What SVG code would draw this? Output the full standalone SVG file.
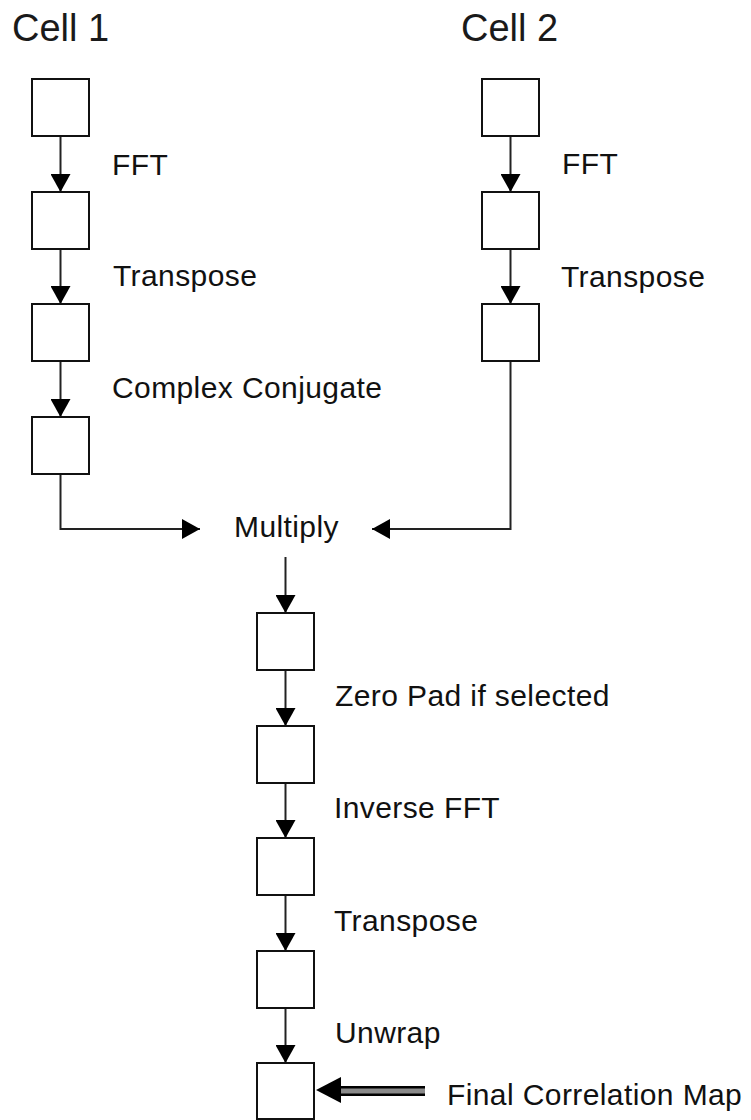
<svg xmlns="http://www.w3.org/2000/svg" width="751" height="1120" viewBox="0 0 751 1120">
<style>
.box{fill:#fff;stroke:#111;stroke-width:2}
.con{fill:none;stroke:#222;stroke-width:2}
.lbl{font-family:"Liberation Sans",Arial,sans-serif;font-size:30px;fill:#111;letter-spacing:0.4px}
.ttl{font-family:"Liberation Sans",Arial,sans-serif;font-size:38px;fill:#1a1a1a}
</style>
<defs>
<marker id="ah" markerUnits="userSpaceOnUse" markerWidth="18" markerHeight="20" refX="18" refY="10" orient="auto">
<path d="M0,0 L18,10 L0,20 Z" fill="#000"/>
</marker>
</defs>
<rect width="751" height="1120" fill="#fff"/>
<g id="titles">
<text class="ttl" x="12" y="41">Cell 1</text>
<text class="ttl" x="461" y="41">Cell 2</text>
</g>
<g id="connectors">
<line class="con" x1="60.5" y1="136" x2="60.5" y2="192" marker-end="url(#ah)"/>
<line class="con" x1="60.5" y1="249" x2="60.5" y2="304" marker-end="url(#ah)"/>
<line class="con" x1="60.5" y1="361" x2="60.5" y2="417" marker-end="url(#ah)"/>
<path class="con" d="M60.5,474 V529 H200" marker-end="url(#ah)"/>
<line class="con" x1="510.5" y1="136" x2="510.5" y2="192" marker-end="url(#ah)"/>
<line class="con" x1="510.5" y1="249" x2="510.5" y2="304" marker-end="url(#ah)"/>
<path class="con" d="M510.5,361 V529 H372" marker-end="url(#ah)"/>
<line class="con" x1="285.5" y1="557" x2="285.5" y2="613" marker-end="url(#ah)"/>
<line class="con" x1="285.5" y1="670" x2="285.5" y2="726" marker-end="url(#ah)"/>
<line class="con" x1="285.5" y1="783" x2="285.5" y2="838" marker-end="url(#ah)"/>
<line class="con" x1="285.5" y1="895" x2="285.5" y2="951" marker-end="url(#ah)"/>
<line class="con" x1="285.5" y1="1008" x2="285.5" y2="1063" marker-end="url(#ah)"/>
<g id="final-arrow">
<rect x="338" y="1086" width="87" height="10" fill="#000"/>
<rect x="338" y="1088.5" width="87" height="5" fill="#8a8a8a"/>
<path d="M316,1090 L341,1077 L341,1103 Z" fill="#000"/>
</g>
</g>
<g id="cell1-box1"><rect class="box" x="32" y="79" width="57" height="57"/></g>
<g id="cell1-box2"><rect class="box" x="32" y="192" width="57" height="57"/></g>
<g id="cell1-box3"><rect class="box" x="32" y="304" width="57" height="57"/></g>
<g id="cell1-box4"><rect class="box" x="32" y="417" width="57" height="57"/></g>
<g id="cell2-box1"><rect class="box" x="482" y="79" width="57" height="57"/></g>
<g id="cell2-box2"><rect class="box" x="482" y="192" width="57" height="57"/></g>
<g id="cell2-box3"><rect class="box" x="482" y="304" width="57" height="57"/></g>
<g id="out-box1"><rect class="box" x="257" y="613" width="57" height="57"/></g>
<g id="out-box2"><rect class="box" x="257" y="726" width="57" height="57"/></g>
<g id="out-box3"><rect class="box" x="257" y="838" width="57" height="57"/></g>
<g id="out-box4"><rect class="box" x="257" y="951" width="57" height="57"/></g>
<g id="out-box5"><rect class="box" x="257" y="1063" width="57" height="56"/></g>
<g id="labels">
<text class="lbl" x="112" y="175">FFT</text>
<text class="lbl" x="113" y="286">Transpose</text>
<text class="lbl" x="112" y="398">Complex Conjugate</text>
<text class="lbl" x="562" y="174">FFT</text>
<text class="lbl" x="561" y="287">Transpose</text>
<text class="lbl" x="234" y="537">Multiply</text>
<text class="lbl" x="335" y="706">Zero Pad if selected</text>
<text class="lbl" x="334" y="818">Inverse FFT</text>
<text class="lbl" x="334" y="931">Transpose</text>
<text class="lbl" x="335" y="1043">Unwrap</text>
<text class="lbl" x="447" y="1105">Final Correlation Map</text>
</g>
</svg>
